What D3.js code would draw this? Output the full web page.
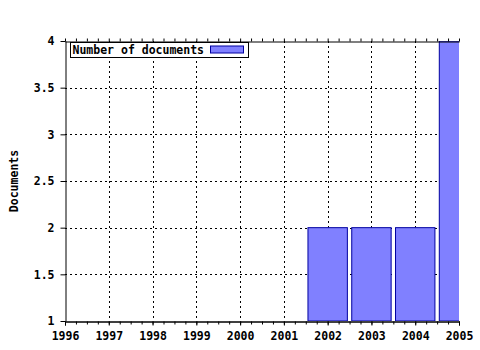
<!DOCTYPE html>
<html>
<head>
<meta charset="utf-8">
<script src="https://cdn.jsdelivr.net/npm/d3@7"></script>
<style>
  body { margin: 0; background: #fff; }
  text { font-family: "DejaVu Sans Mono", monospace; font-weight: bold; font-size: 11.5px; }
</style>
</head>
<body>
<div id="chart"></div>
<script>
// Data
const years = [2002, 2003, 2004, 2005];
const documents = [2, 2, 2, 4];
const yTicks = [1, 1.5, 2, 2.5, 3, 3.5, 4];
const xTicks = [1996, 1997, 1998, 1999, 2000, 2001, 2002, 2003, 2004, 2005];

let width = 480, height = 350;
let margin = { top: 41, bottom: 29, left: 65, right: 21 };

let svg = d3.select('#chart')
    .append('svg')
    .attr('width', width)
    .attr('height', height);

let xScale = d3.scaleLinear()
    .domain([1996, 2005])
    .range([margin.left, width - margin.right]);

let yScale = d3.scaleLinear()
    .domain([1, 4])
    .range([height - margin.bottom, margin.top]);

// clip for bars
svg.append('clipPath').attr('id', 'plot')
    .append('rect')
    .attr('x', margin.left)
    .attr('y', margin.top)
    .attr('width', width - margin.left - margin.right)
    .attr('height', height - margin.top - margin.bottom);

// Grid lines
svg.append('g')
    .selectAll('line')
    .data(xTicks.slice(1, -1))
    .enter().append('line')
    .attr('x1', d => Math.round(xScale(d)) + 0.5)
    .attr('x2', d => Math.round(xScale(d)) + 0.5)
    .attr('y1', margin.top)
    .attr('y2', height - margin.bottom)
    .attr('stroke', '#000')
    .attr('stroke-dasharray', '2,3');

svg.append('g')
    .selectAll('line')
    .data(yTicks.slice(1, -1))
    .enter().append('line')
    .attr('x1', margin.left)
    .attr('x2', width - margin.right)
    .attr('y1', d => Math.round(yScale(d)) + 0.5)
    .attr('y2', d => Math.round(yScale(d)) + 0.5)
    .attr('stroke', '#000')
    .attr('stroke-dasharray', '2,3');

// Bars
const barW = (xScale(1997) - xScale(1996)) * 0.9;
svg.append('g')
    .attr('clip-path', 'url(#plot)')
    .selectAll('rect')
    .data(years)
    .enter().append('rect')
    .attr('x', d => xScale(d) - barW / 2)
    .attr('y', (d, i) => yScale(documents[i]))
    .attr('width', barW)
    .attr('height', (d, i) => yScale(1) - yScale(documents[i]))
    .attr('fill', '#8080ff')
    .attr('stroke', '#0000a0')
    .attr('stroke-width', 1);

// Axes
const minor = d3.range(1996, 2005.01, 0.25);

let xAxis = svg.append('g')
    .attr('transform', `translate(0, ${height - margin.bottom + 0.5})`)
    .call(d3.axisBottom(xScale).tickValues(xTicks).tickFormat(d3.format('d')).tickSize(4).tickPadding(6));

svg.append('g')
    .attr('transform', `translate(0, ${height - margin.bottom + 0.5})`)
    .call(d3.axisBottom(xScale).tickValues(minor).tickFormat('').tickSize(3).tickSizeOuter(0));

svg.append('g')
    .attr('transform', `translate(0, ${margin.top + 0.5})`)
    .call(d3.axisTop(xScale).tickValues(minor).tickFormat('').tickSize(3).tickSizeOuter(0));

let yAxis = svg.append('g')
    .attr('transform', `translate(${margin.left + 0.5}, 0)`)
    .call(d3.axisLeft(yScale).tickValues(yTicks).tickFormat(d => d).tickSize(5).tickSizeOuter(0).tickPadding(6));

svg.selectAll('.domain').attr('stroke', '#000');
svg.selectAll('.tick text').attr('font-size', null).attr('font-family', null).attr('fill', '#000');

// y-axis label
svg.append('text')
    .attr('x', 0 - (margin.top + height - margin.bottom) / 2)
    .attr('y', 18)
    .attr('transform', 'rotate(-90)')
    .style('text-anchor', 'middle')
    .text('Documents');

// Legend
let legend = svg.append('g').attr('transform', 'translate(70.5, 42.5)');
legend.append('rect')
    .attr('width', 178).attr('height', 15)
    .attr('fill', '#fff').attr('stroke', '#000');
legend.append('text')
    .attr('x', 2).attr('y', 11.5)
    .text('Number of documents');
legend.append('rect')
    .attr('x', 140).attr('y', 3.5)
    .attr('width', 33).attr('height', 7)
    .attr('fill', '#8080ff').attr('stroke', '#0000a0');
</script>
</body>
</html>
